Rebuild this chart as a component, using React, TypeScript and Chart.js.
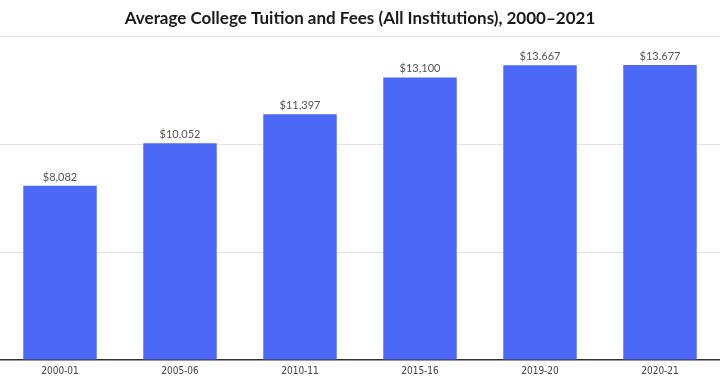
import React, { useEffect, useRef } from "react";
import { Chart, registerables } from "chart.js";

Chart.register(...registerables);

const categories = ["2000-01", "2005-06", "2010-11", "2015-16", "2019-20", "2020-21"];
const tuition = [8082, 10052, 11397, 13100, 13667, 13677];
const yTicks = [0, 5000, 10000, 15000];

const valueLabels = {
  id: "valueLabels",
  afterDatasetsDraw(chart: any) {
    const ctx = chart.ctx;
    const meta = chart.getDatasetMeta(0);
    ctx.save();
    ctx.font = "11px Lato, 'Open Sans', sans-serif";
    ctx.fillStyle = "#555";
    ctx.textAlign = "center";
    ctx.textBaseline = "bottom";
    meta.data.forEach((bar: any, i: number) => {
      const v = chart.data.datasets[0].data[i] as number;
      ctx.fillText("$" + v.toLocaleString("en-US"), bar.x, bar.y - 3);
    });
    ctx.restore();
  },
};

export default function App() {
  const ref = useRef<HTMLCanvasElement>(null);
  useEffect(() => {
    document.body.style.margin = "0";
    const chart = new Chart(ref.current!, {
      type: "bar",
      data: {
        labels: categories,
        datasets: [
          {
            data: tuition,
            backgroundColor: "#4c68f6",
            barPercentage: 0.72,
            categoryPercentage: 0.85,
          },
        ],
      },
      options: {
        animation: false,
        responsive: false,
        layout: { padding: { top: 4, bottom: 1, left: 0, right: 0 } },
        plugins: {
          legend: { display: false },
          tooltip: { enabled: false },
          title: {
            display: true,
            text: "Average College Tuition and Fees (All Institutions), 2000–2021",
            color: "#1a1a1a",
            font: { family: "Lato, sans-serif", size: 17, weight: "bold" },
            padding: { top: 4, bottom: 8 },
          },
        },
        scales: {
          x: {
            afterFit: (axis: any) => {
              axis.height = 17;
            },
            grid: { display: false, drawTicks: false },
            border: { display: true, color: "#333", width: 1.5 },
            ticks: {
              color: "#444",
              font: { family: "'Liberation Sans Narrow', 'DejaVu Sans Condensed', sans-serif", size: 10 },
              padding: 5,
            },
          },
          y: {
            min: 0,
            max: 15000,
            afterBuildTicks: (axis: any) => {
              axis.ticks = yTicks.map((v) => ({ value: v }));
            },
            ticks: { display: false },
            border: { display: false },
            grid: {
              color: (c: any) => (c.tick && c.tick.value === 0 ? "rgba(0,0,0,0)" : "#e2e2e2"),
              drawTicks: false,
            },
          },
        },
      },
      plugins: [valueLabels],
    });
    return () => chart.destroy();
  }, []);
  return <canvas ref={ref} width={720} height={378} style={{ display: "block" }} />;
}
